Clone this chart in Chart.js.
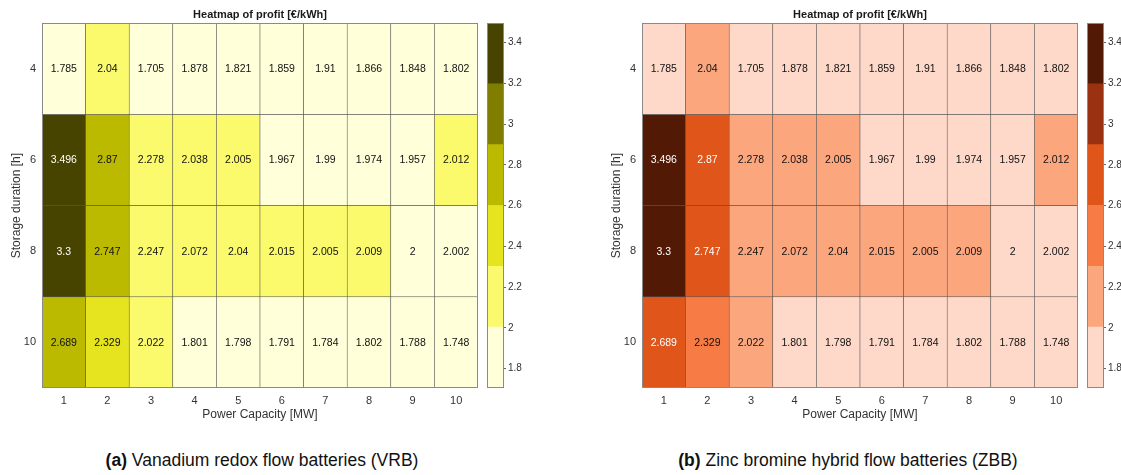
<!DOCTYPE html>
<html>
<head>
<meta charset="utf-8">
<script src="https://cdn.jsdelivr.net/npm/chart.js@4"></script>
<style>
  body { margin: 0; background: #fff; width: 1121px; height: 475px; position: relative; overflow: hidden; }
  canvas { position: absolute; top: 0; }
  .caption { position: absolute; top: 450px; font-family: Helvetica, Arial, "Liberation Sans", sans-serif; font-size: 17.5px; color: #111; transform: translateX(-50%); white-space: nowrap; }
  .caption b { font-weight: bold; }
</style>
</head>
<body>
<canvas id="heatA" width="478" height="425" style="left:0px"></canvas>
<canvas id="barA" width="50" height="425" style="left:487px"></canvas>
<canvas id="heatB" width="478" height="425" style="left:600px"></canvas>
<canvas id="barB" width="50" height="425" style="left:1087px"></canvas>
<div class="caption" style="left:262px"><b>(a)</b> Vanadium redox flow batteries (VRB)</div>
<div class="caption" style="left:848px"><b>(b)</b> Zinc bromine hybrid flow batteries (ZBB)</div>
<script>
// Achsen
const powerLabels = ['1', '2', '3', '4', '5', '6', '7', '8', '9', '10'];
const storageHours = [4, 6, 8, 10];

// Profit [€/kWh] per Zeile (Speicherdauer)
const profit4h  = [1.785, 2.04, 1.705, 1.878, 1.821, 1.859, 1.91, 1.866, 1.848, 1.802];
const profit6h  = [3.496, 2.87, 2.278, 2.038, 2.005, 1.967, 1.99, 1.974, 1.957, 2.012];
const profit8h  = [3.3, 2.747, 2.247, 2.072, 2.04, 2.015, 2.005, 2.009, 2, 2.002];
const profit10h = [2.689, 2.329, 2.022, 1.801, 1.798, 1.791, 1.784, 1.802, 1.788, 1.748];
const profitRows = [profit4h, profit6h, profit8h, profit10h];

// Farbskala (diskret, 6 Stufen)
const colorEdges = [1.705, 2.0035, 2.302, 2.6005, 2.899, 3.1975, 3.496];
const colorbarTicks = [1.8, 2, 2.2, 2.4, 2.6, 2.8, 3, 3.2, 3.4];
const vrbColors = ['#ffffda', '#fbfa6d', '#e6e41f', '#bbba00', '#807e00', '#474400'];
const zbbColors = ['#fed8c8', '#fca67e', '#f77b45', '#e0551a', '#9a3211', '#521a05'];

const fontFamily = 'Helvetica, Arial, "Liberation Sans", sans-serif';

function binIndex(v) {
    for (let i = 0; i < colorEdges.length - 2; i++) {
        if (v < colorEdges[i + 1]) return i;
    }
    return colorEdges.length - 2;
}

function isDark(hex) {
    const r = parseInt(hex.substr(1, 2), 16);
    const g = parseInt(hex.substr(3, 2), 16);
    const b = parseInt(hex.substr(5, 2), 16);
    return (0.299 * r + 0.587 * g + 0.114 * b) / 255 < 0.5;
}

// Rahmen um den Plotbereich
const framePlugin = {
    id: 'frame',
    afterDraw(chart) {
        const a = chart.chartArea;
        const ctx = chart.ctx;
        ctx.save();
        ctx.strokeStyle = '#8a8a8a';
        ctx.lineWidth = 1;
        ctx.strokeRect(Math.round(a.left) + 0.5, Math.round(a.top) + 0.5,
            Math.round(a.right - a.left) - 1, Math.round(a.bottom - a.top) - 1);
        ctx.restore();
    }
};

// Werte in die Zellen schreiben
const cellLabelPlugin = {
    id: 'cellLabels',
    afterDatasetsDraw(chart) {
        const ctx = chart.ctx;
        ctx.save();
        ctx.font = '10.5px ' + fontFamily;
        ctx.textAlign = 'center';
        ctx.textBaseline = 'middle';
        chart.data.datasets.forEach((ds, di) => {
            const meta = chart.getDatasetMeta(di);
            meta.data.forEach((bar, i) => {
                const v = ds.values[i];
                ctx.fillStyle = isDark(ds.backgroundColor[i]) ? '#ffffff' : '#111111';
                ctx.fillText(String(v), bar.x, (bar.y + bar.base) / 2 + 0.5);
            });
        });
        ctx.restore();
    }
};

function createHeatmap(id, colors) {
    const datasets = storageHours.map((h, r) => ({
        data: profitRows[r].map(() => [h - 1, h + 1]),
        values: profitRows[r],
        backgroundColor: profitRows[r].map(v => colors[binIndex(v)]),
        borderColor: '#555555',
        borderWidth: 0.6,
        borderSkipped: false,
        grouped: false,
        barPercentage: 1,
        categoryPercentage: 1
    }));

    new Chart(document.getElementById(id), {
        type: 'bar',
        data: { labels: powerLabels, datasets: datasets },
        options: {
            responsive: false,
            animation: false,
            layout: { padding: 0 },
            plugins: {
                legend: { display: false },
                tooltip: { enabled: false },
                title: {
                    display: true,
                    fullSize: false,
                    text: 'Heatmap of profit [€/kWh]',
                    color: '#1a1a1a',
                    font: { family: fontFamily, size: 11, weight: 'bold', lineHeight: 1.2 },
                    padding: { top: 8, bottom: 2 }
                }
            },
            scales: {
                x: {
                    type: 'category',
                    grid: { display: false, drawTicks: false },
                    border: { display: false },
                    ticks: { color: '#333', padding: 6, font: { family: fontFamily, size: 11 } },
                    title: {
                        display: true,
                        text: 'Power Capacity [MW]',
                        color: '#333',
                        font: { family: fontFamily, size: 12 },
                        padding: { top: 0, bottom: 3 }
                    },
                    afterFit: ax => { ax.height = 37; }
                },
                y: {
                    type: 'linear',
                    min: 3,
                    max: 11,
                    reverse: true,
                    afterBuildTicks: ax => { ax.ticks = storageHours.map(v => ({ value: v })); },
                    grid: { display: false, drawTicks: false },
                    border: { display: false },
                    ticks: { color: '#333', padding: 6, font: { family: fontFamily, size: 11 } },
                    title: {
                        display: true,
                        text: 'Storage duration [h]',
                        color: '#333',
                        font: { family: fontFamily, size: 12 },
                        padding: { top: 9, bottom: 0 }
                    },
                    afterFit: ax => { ax.width = 42; }
                }
            }
        },
        plugins: [cellLabelPlugin, framePlugin]
    });
}

function createColorbar(id, colors) {
    const datasets = colors.map((c, i) => ({
        data: [[colorEdges[i], colorEdges[i + 1]]],
        backgroundColor: c,
        borderWidth: 0,
        grouped: false,
        barPercentage: 1,
        categoryPercentage: 1
    }));

    new Chart(document.getElementById(id), {
        type: 'bar',
        data: { labels: [''], datasets: datasets },
        options: {
            responsive: false,
            animation: false,
            layout: { padding: { top: 23, bottom: 37 } },
            plugins: { legend: { display: false }, tooltip: { enabled: false } },
            scales: {
                x: { display: false },
                y: {
                    position: 'right',
                    min: colorEdges[0],
                    max: colorEdges[colorEdges.length - 1],
                    afterBuildTicks: ax => { ax.ticks = colorbarTicks.map(v => ({ value: v })); },
                    grid: { drawOnChartArea: false, drawTicks: true, tickLength: 2, color: '#666' },
                    border: { display: false },
                    ticks: {
                        color: '#333',
                        padding: 2,
                        font: { family: fontFamily, size: 10 },
                        callback: v => String(v)
                    },
                    afterFit: ax => { ax.width = 33; }
                }
            }
        },
        plugins: [framePlugin]
    });
}

createHeatmap('heatA', vrbColors);
createColorbar('barA', vrbColors);
createHeatmap('heatB', zbbColors);
createColorbar('barB', zbbColors);
</script>
</body>
</html>
